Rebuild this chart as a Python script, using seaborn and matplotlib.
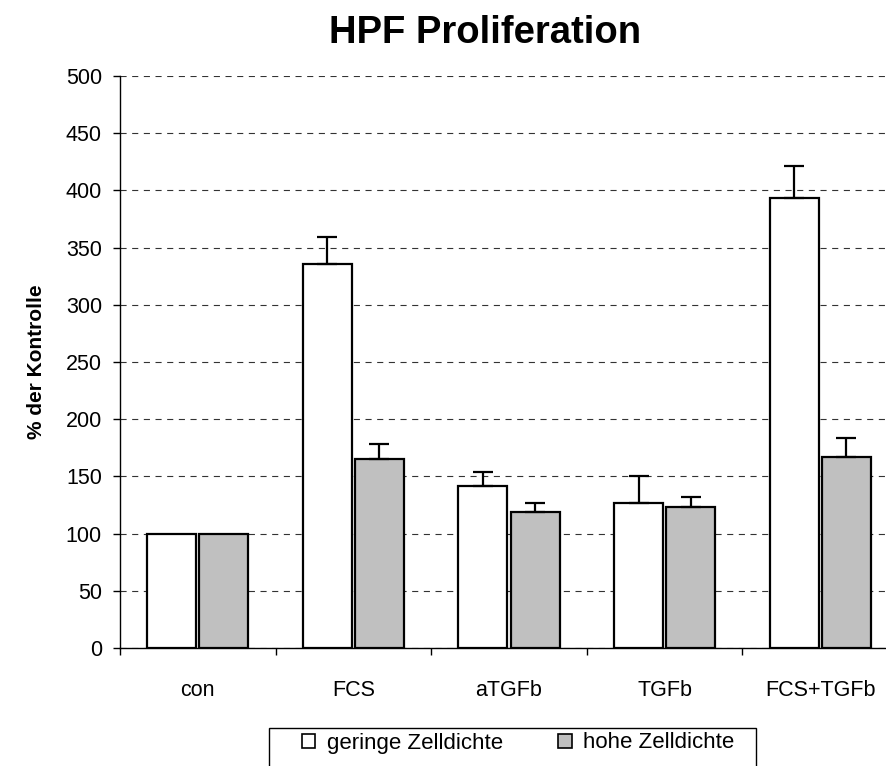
import matplotlib
matplotlib.use("Agg")
import matplotlib.pyplot as plt
import seaborn as sns
import pandas as pd
from matplotlib.patches import Patch, Rectangle

categories = ["con", "FCS", "aTGFb", "TGFb", "FCS+TGFb"]
groups = ["geringe Zelldichte", "hohe Zelldichte"]
low_density = [100, 336, 142, 127, 393]
low_err = [0, 23, 12, 23, 28]
high_density = [100, 165, 119, 123, 167]
high_err = [0, 13, 7.5, 9, 17]
yticks = [0, 50, 100, 150, 200, 250, 300, 350, 400, 450, 500]

sns.set_theme(style="white")
plt.rcParams["font.family"] = ["Liberation Sans", "DejaVu Sans"]
for k in ["text.color", "axes.labelcolor", "xtick.color", "ytick.color"]:
    plt.rcParams[k] = "black"

df = pd.DataFrame({
    "cat": categories * 2,
    "val": low_density + high_density,
    "grp": [groups[0]] * len(categories) + [groups[1]] * len(categories),
})
errs = {groups[0]: low_err, groups[1]: high_err}
colors = {groups[0]: "#FFFFFF", groups[1]: "#C0C0C0"}

fig = plt.figure(figsize=(8.87, 7.66), dpi=100)
W, H = 887, 766
ax = fig.add_axes([120 / W, 1 - 648 / H, (898 - 120) / W, (648 - 76) / H])

sns.barplot(data=df, x="cat", y="val", hue="grp", order=categories, hue_order=groups,
            palette=colors, edgecolor="black", linewidth=1.6, width=0.67, gap=0.06,
            errorbar=None, legend=False, saturation=1, ax=ax, zorder=3)

for cont, g in zip(ax.containers, groups):
    xs = [p.get_x() + p.get_width() / 2 for p in cont.patches]
    hs = [p.get_height() for p in cont.patches]
    e = errs[g]
    xe = [x for x, v in zip(xs, e) if v > 0]
    he = [h for h, v in zip(hs, e) if v > 0]
    ee = [v for v in e if v > 0]
    ax.errorbar(xe, he, yerr=[[0] * len(ee), ee], fmt="none", ecolor="black",
                elinewidth=1.6, capsize=7, capthick=1.6, zorder=4)

ax.set_ylim(0, 500)
ax.set_xlim(-0.5, 4.5)
ax.set_yticks(yticks)
ax.set_yticklabels([str(t) for t in yticks], fontsize=15.5)
ax.yaxis.grid(True, linestyle=(0, (5.5, 5)), color="#333333", linewidth=0.8)
ax.xaxis.grid(False)
ax.set_axisbelow(True)

for s in ["top", "right"]:
    ax.spines[s].set_visible(False)
for s in ["left", "bottom"]:
    ax.spines[s].set_color("black")
    ax.spines[s].set_linewidth(1.0)

ax.tick_params(axis="y", which="major", left=True, length=5, width=1, color="black",
               direction="out", pad=8, labelcolor="black")
ax.set_xticks(range(len(categories)))
ax.set_xticklabels(categories, fontsize=15.5)
ax.tick_params(axis="x", which="major", length=0, pad=23, labelcolor="black")
ax.set_xticks([i - 0.5 for i in range(len(categories) + 1)], minor=True)
ax.tick_params(axis="x", which="minor", bottom=True, length=5, width=1, color="black",
               direction="out")

ax.set_xlabel("")
ax.set_ylabel("% der Kontrolle", fontsize=15, fontweight="bold", labelpad=14,
              color="black")

fig.text(485 / W, 1 - 33 / H, "HPF Proliferation", fontsize=27.5, fontweight="bold",
         ha="center", va="center", color="black")

handles = [Patch(facecolor=colors[g], edgecolor="black", linewidth=1.2) for g in groups]
leg = fig.legend(handles, groups, loc="center", bbox_to_anchor=(518 / W, 1 - 743 / H),
                 ncol=2, frameon=False, fontsize=16, handlelength=0.6, handleheight=0.6,
                 handletextpad=0.5, columnspacing=2.5)
for t in leg.get_texts():
    t.set_color("black")
fig.add_artist(Rectangle((269 / W, 1 - 790 / H), (756 - 269) / W, (790 - 728) / H,
                         transform=fig.transFigure, fill=False, edgecolor="black",
                         linewidth=1.0))

fig.savefig("out.png", dpi=100)
